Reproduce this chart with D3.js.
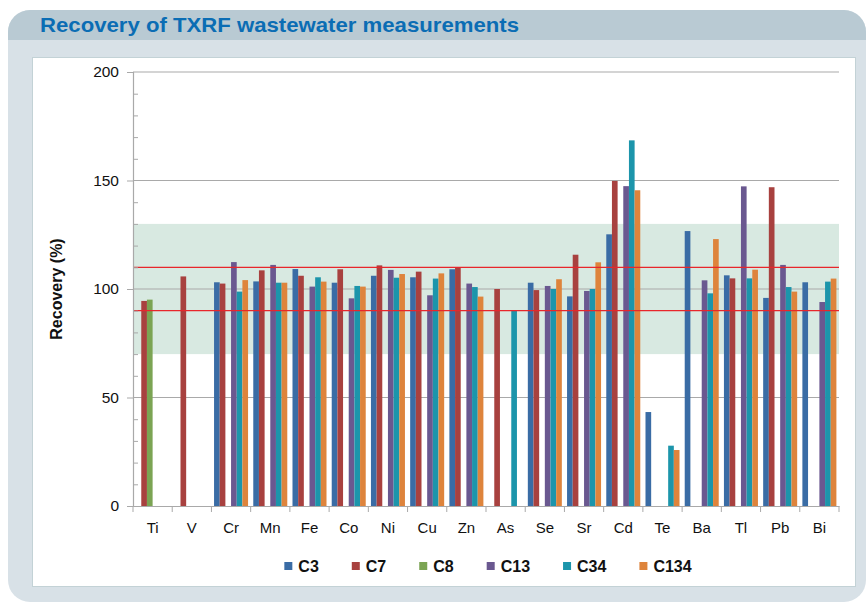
<!DOCTYPE html>
<html>
<head>
<meta charset="utf-8">
<script src="https://cdn.jsdelivr.net/npm/d3@7"></script>
<style>
  html, body { margin: 0; padding: 0; background: #ffffff; }
  svg { display: block; font-family: "Liberation Sans", Arial, sans-serif; }
</style>
</head>
<body>
<div id="chart"></div>
<script>
// elements on the x axis
var elements = ["Ti", "V", "Cr", "Mn", "Fe", "Co", "Ni", "Cu", "Zn", "As", "Se", "Sr", "Cd", "Te", "Ba", "Tl", "Pb", "Bi"];
var seriesNames = ["C3", "C7", "C8", "C13", "C34", "C134"];
var seriesColors = ["#3a6ca5", "#a8413f", "#7ba453", "#6a5890", "#1c95ab", "#de843c"];

// recovery in %, one value per element (null = not measured)
var C3   = [null, null, 103.1, 103.5, 109.2, 102.9, 106.1, 105.4, 109.1, null, 102.9, 96.6, 125.2, 43.3, 126.7, 106.3, 95.9, 103.1];
var C7   = [94.5, 105.8, 102.5, 108.6, 106.1, 109.1, 110.9, 108.0, 109.8, 100.0, 99.5, 115.8, 149.8, null, null, 104.9, 146.9, null];
var C8   = [95.1, null, null, null, null, null, null, null, null, null, null, null, null, null, null, null, null, null];
var C13  = [null, null, 112.4, 111.1, 101.1, 95.7, 108.8, 97.1, 102.5, null, 101.4, 99.1, 147.4, null, 104.0, 147.3, 111.1, 94.0];
var C34  = [null, null, 98.8, 102.9, 105.4, 101.4, 105.2, 104.8, 100.9, 90.2, 100.0, 100.0, 168.5, 27.8, 98.0, 104.9, 100.9, 103.4];
var C134 = [null, null, 104.1, 102.9, 103.4, 101.1, 106.9, 107.2, 96.5, null, 104.5, 112.3, 145.5, 25.8, 123.0, 108.9, 98.8, 104.8];

var yTicks = [0, 50, 100, 150, 200];
var band = [70, 130];       // acceptance band
var limits = [90, 110];     // red limit lines

var allSeries = [C3, C7, C8, C13, C34, C134];

const W = 867, H = 602;
const margin = { top: 72, right: 28, bottom: 96, left: 133 },
    width = 839 - margin.left,
    height = 506 - margin.top;

var svg = d3.select("#chart").append("svg")
    .attr("width", W)
    .attr("height", H);

// ---- frame ----
svg.append("clipPath").attr("id", "outer")
    .append("rect")
    .attr("x", 8).attr("y", 10)
    .attr("width", 858).attr("height", 592)
    .attr("rx", 22).attr("ry", 22);

var frame = svg.append("g").attr("clip-path", "url(#outer)");
frame.append("rect")
    .attr("x", 0).attr("y", 0).attr("width", W).attr("height", H)
    .attr("fill", "#d8e1e7");
frame.append("rect")
    .attr("x", 0).attr("y", 0).attr("width", W).attr("height", 40)
    .attr("fill", "#b9cad3");

svg.append("rect")
    .attr("x", 32.5).attr("y", 57.5)
    .attr("width", 823).attr("height", 529)
    .attr("fill", "#ffffff")
    .attr("stroke", "#c3d2d6");

svg.append("text")
    .attr("x", 40)
    .attr("y", 32)
    .attr("font-size", 21)
    .attr("font-weight", "bold")
    .attr("fill", "#0b6db4")
    .attr("textLength", 479)
    .attr("lengthAdjust", "spacingAndGlyphs")
    .text("Recovery of TXRF wastewater measurements");

// ---- scales ----
var x0 = d3.scaleBand()
    .domain(elements)
    .range([0, width])
    .paddingInner(0)
    .paddingOuter(0);

var x1 = d3.scaleBand()
    .domain(seriesNames)
    .range([0, x0.bandwidth()])
    .paddingInner(0)
    .paddingOuter(0.46);

var y = d3.scaleLinear()
    .domain([0, 200])
    .range([height, 0]);

var g = svg.append("g")
    .attr("transform", "translate(" + margin.left + "," + margin.top + ")");

// green band
g.append("rect")
    .attr("x", 0)
    .attr("y", y(band[1]))
    .attr("width", width)
    .attr("height", y(band[0]) - y(band[1]))
    .attr("fill", "#d8e9e1");

// gridlines
g.selectAll(".grid")
    .data(yTicks.filter(function (d) { return d > 0; }))
    .enter().append("line")
    .attr("x1", 0).attr("x2", width)
    .attr("y1", function (d) { return y(d); })
    .attr("y2", function (d) { return y(d); })
    .attr("stroke", "#a9a9a9")
    .attr("stroke-width", 1.2);

// bars
var rows = elements.map(function (el, i) {
    return seriesNames.map(function (s, j) {
        return { el: el, s: s, v: allSeries[j][i], c: seriesColors[j] };
    }).filter(function (d) { return d.v !== null; });
});

g.selectAll(".group")
    .data(rows)
    .enter().append("g")
    .attr("transform", function (d, i) { return "translate(" + x0(elements[i]) + ",0)"; })
    .selectAll("rect")
    .data(function (d) { return d; })
    .enter().append("rect")
    .attr("x", function (d) { return x1(d.s); })
    .attr("y", function (d) { return y(d.v); })
    .attr("width", x1.bandwidth())
    .attr("height", function (d) { return height - y(d.v); })
    .attr("fill", function (d) { return d.c; });

// red limit lines
g.selectAll(".limit")
    .data(limits)
    .enter().append("line")
    .attr("x1", 0).attr("x2", width)
    .attr("y1", function (d) { return y(d); })
    .attr("y2", function (d) { return y(d); })
    .attr("stroke", "#e8262b")
    .attr("stroke-width", 1.3);

// y axis
var yAxis = g.append("g")
    .call(d3.axisLeft(y).tickValues(yTicks).tickSize(6).tickPadding(8));
yAxis.select(".domain").attr("stroke", "#a9a9a9").attr("stroke-width", 1.2);
yAxis.selectAll(".tick line").attr("stroke", "#a9a9a9");
yAxis.selectAll("text").attr("font-size", 15.5).attr("fill", "#111").attr("font-family", "Liberation Sans, Arial, sans-serif");

var minor = g.append("g")
    .call(d3.axisRight(y).tickValues(d3.range(10, 200, 10).filter(function (d) { return d % 50 !== 0; })).tickSize(5).tickFormat(""));
minor.select(".domain").remove();
minor.selectAll(".tick line").attr("stroke", "#a9a9a9");

// x axis
var xAxis = g.append("g")
    .attr("transform", "translate(0," + height + ")")
    .call(d3.axisBottom(x0).tickSize(0).tickPadding(16));
xAxis.select(".domain").attr("stroke", "#a9a9a9").attr("stroke-width", 1.2);
xAxis.selectAll("text").attr("font-size", 15).attr("fill", "#111").attr("font-family", "Liberation Sans, Arial, sans-serif");

g.append("g").selectAll("line")
    .data(d3.range(elements.length + 1))
    .enter().append("line")
    .attr("x1", function (i) { return i * x0.step(); })
    .attr("x2", function (i) { return i * x0.step(); })
    .attr("y1", height).attr("y2", height + 6)
    .attr("stroke", "#a9a9a9");

// y title
svg.append("text")
    .attr("transform", "translate(62," + (margin.top + height / 2) + ") rotate(-90)")
    .attr("text-anchor", "middle")
    .attr("font-size", 16)
    .attr("font-weight", "bold")
    .attr("fill", "#111")
    .text("Recovery (%)");

// legend
var legend = svg.append("g").attr("transform", "translate(0,566)");
var items = legend.selectAll("g")
    .data(seriesNames)
    .enter().append("g");
items.append("rect")
    .attr("x", 0).attr("y", -4)
    .attr("width", 8).attr("height", 8)
    .attr("fill", function (d, i) { return seriesColors[i]; });
items.append("text")
    .attr("x", 14)
    .attr("y", 6)
    .attr("font-size", 16)
    .attr("font-weight", "bold")
    .attr("fill", "#111")
    .text(function (d) { return d; });

var pos = 0, offsets = [];
items.each(function () {
    offsets.push(pos);
    pos += 14 + this.querySelector("text").getComputedTextLength() + 33;
});
var total = pos - 33;
var startX = margin.left + width / 2 - total / 2 + 2;
items.attr("transform", function (d, i) { return "translate(" + (startX + offsets[i]) + ",0)"; });
</script>
</body>
</html>
